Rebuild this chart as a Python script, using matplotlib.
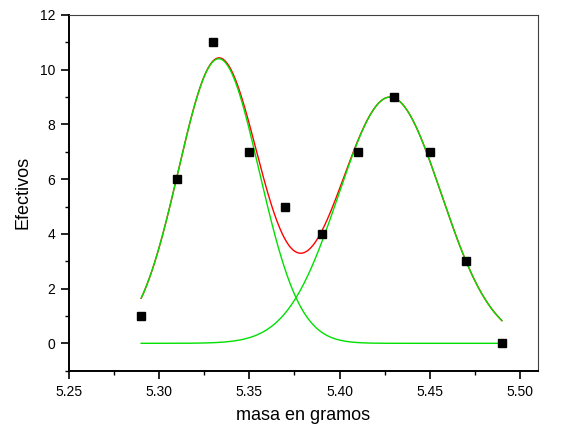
import numpy as np
import matplotlib.pyplot as plt
from matplotlib.ticker import MultipleLocator

plt.rcParams['font.family'] = ['Liberation Sans', 'DejaVu Sans']

# datos observados
masa = [5.29, 5.31, 5.33, 5.35, 5.37, 5.39, 5.41, 5.43, 5.45, 5.47, 5.49]
efectivos = [1, 6, 11, 7, 5, 4, 7, 9, 7, 3, 0]

# parametros del ajuste (dos gaussianas)
amp1, mu1, sig1 = 10.4, 5.333, 0.0224
amp2, mu2, sig2 = 9.0, 5.428, 0.0284


def gauss(x, a, mu, s):
    return a * np.exp(-(x - mu) ** 2 / (2 * s ** 2))


fig = plt.figure(figsize=(5.62, 4.28), dpi=100)
ax = fig.add_axes([0.1228, 0.1339, 0.8345, 0.8311])

xx = np.linspace(masa[0], masa[-1], 400)
g1 = gauss(xx, amp1, mu1, sig1)
g2 = gauss(xx, amp2, mu2, sig2)

ax.plot(xx, g1 + g2, color='#ff0000', lw=1.0, zorder=2)
ax.plot(xx, g1, color='#00e000', lw=1.0, zorder=3)
ax.plot(xx, g2, color='#00e000', lw=1.0, zorder=3)
ax.plot(masa, efectivos, 'ks', markersize=5.5, zorder=4)

ax.set_xlim(5.25, 5.51)
ax.set_ylim(-1, 12)
ax.xaxis.set_major_locator(MultipleLocator(0.05))
ax.xaxis.set_minor_locator(MultipleLocator(0.025))
ax.yaxis.set_major_locator(MultipleLocator(2))
ax.yaxis.set_minor_locator(MultipleLocator(1))
ax.set_xticks([5.25, 5.30, 5.35, 5.40, 5.45, 5.50])
ax.set_xticklabels(['5.25', '5.30', '5.35', '5.40', '5.45', '5.50'])

ax.tick_params(which='major', direction='out', length=6, width=1.2, labelsize=10, pad=4)
ax.tick_params(which='minor', direction='out', length=3, width=1.0)
ax.tick_params(top=False, right=False)

for s in ['left', 'bottom']:
    ax.spines[s].set_linewidth(1.4)
for s in ['top', 'right']:
    ax.spines[s].set_linewidth(0.8)
    ax.spines[s].set_color('#404040')

ax.set_xlabel('masa en gramos', fontsize=13, labelpad=6)
ax.set_ylabel('Efectivos', fontsize=13, labelpad=6)

fig.savefig('out.png', dpi=100)
